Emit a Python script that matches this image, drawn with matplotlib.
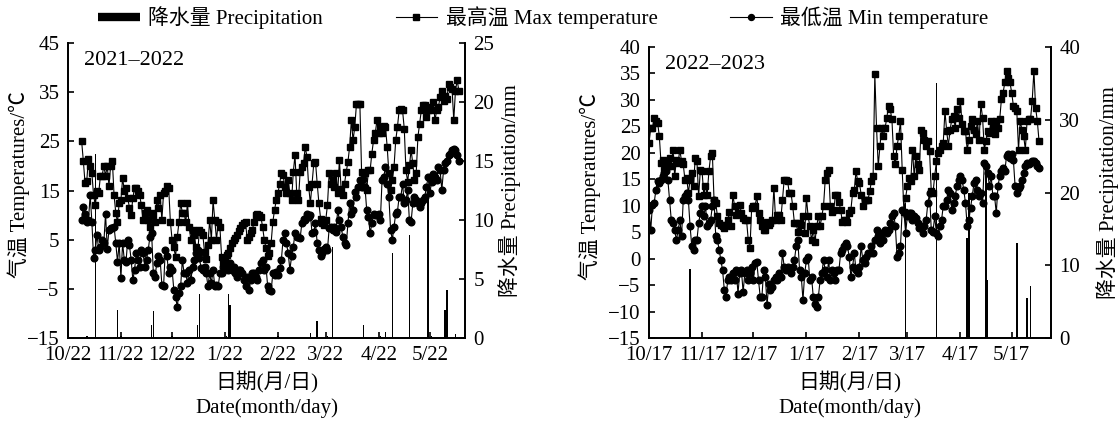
import numpy as np
import matplotlib.pyplot as plt
from matplotlib.lines import Line2D

plt.rcParams['font.family'] = ['Liberation Serif', 'Noto Sans CJK SC']
plt.rcParams['axes.unicode_minus'] = True

# ================================
# DATA
# ================================

# 2021-2022, day 0 = 10/22, first record on day 8
left_first_day = 8
left_tmax = [
    25, 21, 16.5, 17, 21.5, 20, 18.5, 14, 12, 15, 14.5, 18, 18, 20, 18, 20, 16, 20, 21, 14,
    10.5, 8.5, 12.5, 13, 17.5, 15, 15.5, 13.5, 11.5, 10, 13.5, 15.5, 15.5, 15, 14, 12, 9, 10.5, 11, 9,
    7.5, 10.5, 10, 8.5, 13, 11.5, 14, 9, 14.5, 15, 16, 15.5, 8.5, 5, 3.5, 1.5, 5.5, 8.5, 12.5, 10.5,
    10.5, 8.5, 12.5, 7.5, 5, 7, 6, 3.5, 2.5, 7, 6.5, 6, 2.5, 1, 4, 9, 5, 13, 9, 5,
    8.5, 7.5, 1.5,
    0.3, 1.2, 1.9, 2.3, 3.3, 4.3, 5, 5.3, 6, 6.7, 7.3, 8, 8.3, 8.6, 5, 5.6, 6.3, 7, 8.6, 10,
    10.2, 10, 9.7, 7.6, 5, 3.3, 1.6, 2.3, 4.3, 8.6, 11, 13, 14.4, 16.4, 18.5, 18.1, 15.8, 14.4,
    17.1, 14.4, 13, 18.8, 22.2,
    14.4, 13, 18.8, 19.8, 20.5, 23.9, 21.8, 15.8, 12.4, 16.4,
    20.5, 20.8, 16.4, 12.4, 9.3, 8.3, 8, 9, 12, 18.5,
    16.4, 17.1, 15.8, 18.5, 14.4, 21.2, 15.4, 14, 16.4, 18.8,
    20.8, 23.9, 29.3, 25.2, 27.9, 32.6, 32.6, 32.6, 18.8, 15.8,
    18.5, 15.1, 19.1, 19.1, 22.5, 25.2, 26.6, 29.3, 26.6, 27.9,
    26.6, 28.2, 27.9, 23.9, 18.5, 15.1, 17.1, 19.8, 25.2, 27.9,
    31.3, 31.6, 31.3, 27.6, 19.1, 16.8, 20.1, 23.2, 20.5, 17.1,
    18.5, 25.9, 28.6, 31.3, 32.3, 32.3, 29.9, 31.3, 32, 31.3,
    33, 29.3, 31.3, 32, 34, 35.3, 33.3, 34.3, 33.6, 36.7,
    36, 35.7, 29.3, 35.3, 37.4, 35.3,
]
left_tmin = [
    9, 11.7, 10.3, 8.6, 9, 14.1, 8.6, 1.2, 2.9, 6, 2.9, 3.6, 5, 4.3, 10.3, 3.2, 7, 7.3, 7.3, 7.6,
    4.3, 0.5, 4.3, -2.8, 4.3, 0.9, 0.5, 5, 3.9, 0.9, -3.2, -1.1, 2.2, 0.9, -0.5, 2.9, 2.2, -0.5, 0.9, 2.9,
    5.6, 6.3, -1.8, -2.5, 0.2, 1.6, 0.9, -4.2, -4.5, 2.9, 1.6, -1.8, -0.5, -1.1, -5.2, -6.6, -8.6, -5.9, -4.5, 0.9,
    -1.8, -1.8, -3.9, -1.1, -3.2, -0.5, 0.9, 2.2, 2.9, 1.2, -0.8, -1.1, -0.5, -1.8, -4.5, -1.8, -3.9, -1.1, -4.5, -4.2,
    -4.5, -1.8, -1.8, -0.5, -0.8, 0.2, -1.1, 0.2, -1.1, -0.5, -1.8, -2.5, -1.1, -1.1, -1.8, -3.2, -4.5, -2.5, -5.2, -3.2,
    -1.8, -1.8, -2.5, -3.2, -1.1, 0.2, 0.9, -1.1, -0.5, -4.5, -5.2, -5.5, -1.8, -2.2, -1.5, -2.2, -0.8, 0.9, 5, 6.3,
    4.3, 2.2, -1.1, 1.6, 3.6, 6.3, 5.6, 5.6, 5.3, 8.3, 9.3, 9, 10.3, 9.7, 10, 6.3, 6.6, 8.3, 4.3, 2.9,
    1.6, 2.2, 3.2, 3.6, 2.9, 7.3, 7.6, 7, 7.6, 6.6, 11, 9, 7.6, 5.6, 4.3, 3.9, 8.3, 12.4, 10.3, 11,
    14.7, 13.7, 15.7, 17.1, 15.7, 17.4, 15.7, 11, 9.7, 6.3, 8.3, 10.3, 10, 10, 10.3, 9, 17.1, 17.8, 19.8, 16.4,
    13.7, 7, 5, 7.6, 10.3, 10.7, 13.7, 13.7, 16.4, 12.4, 13, 15.1, 9, 8.6, 12.4, 13.7, 13, 12.4, 11.7, 12.4,
    13, 13.7, 15.7, 17.8, 14.4, 16.8, 18.4, 17.8, 17.1, 19.8, 19.1, 15.1, 19.1, 20.5, 21.1, 22.2, 22.5, 23.2, 23.5, 23.2,
    22.2, 21.1,
]
left_rain_day = [11, 16, 29, 31, 38, 49, 50, 61, 76, 77, 93, 94, 95, 123, 142, 146,
                 152, 155, 159, 173, 183, 186, 190, 200, 211, 213, 221, 222, 227]
left_rain = [0.2, 15.6, 2.4, 0.2, 0.1, 1.1, 2.3, 0.2, 1.1, 3.7, 0.2, 3.7, 2.8, 0.2, 0.4, 1.4,
             0.2, 7.7, 0.1, 1.1, 0.2, 0.5, 7.2, 8.7, 12.2, 0.2, 2.4, 4.1, 0.3]
left_ticks = [0, 31, 61, 92, 123, 151, 182, 212]
left_ticklabels = ['10/22', '11/22', '12/22', '1/22', '2/22', '3/22', '4/22', '5/22']

# 2022-2023, day 0 = 10/17
right_first_day = 0
right_tmax = [
    21.9, 24.7, 24.7, 26.6, 26, 25.7, 23.2, 18.1, 18.7, 16.8, 18.4, 17.5, 19.1, 17.5, 20.6, 15.6,
    18.7, 18.1, 20.6, 18.4, 17.8, 14.9, 15.3, 12.4, 14.9, 16.2, 13.7, 19.1, 18.4, 11.8, 16.8, 16.5,
    12.1, 13.7, 12.1, 16.5, 19.4, 20, 11.1, 10.5, 8, 6.7, 6.4, 6.1, 5.8, 6.4, 7.3, 8.9, 6.1, 12.1,
    9.9, 8.3, 8.6, 10.2, 8.6, 7.7, 7.3, 7.3, 3.5, 2, 9.6, 9.9, 9.9, 11.8, 8.6, 7.3, 6.1, 5.4, 5.4, 7,
    6.4, 6.7, 7.3, 13.4, 7.3, 8.3, 8.3, 7.3, 11.1, 14.9, 14.9, 14.6, 12.4, 12.4, 9.9, 6.7, 6.7, 5.1,
    6.7, 6.4, 8, 4.8, 11.5, 8, 6.1, 3.5, 5.4, 3.2, 6.1, 8, 6.1, 8, 9.9, 14.9, 16.2, 16.8, 9.9, 8.9,
    9.2, 12.1, 12.1, 10.8, 9.2, 7, 7.3, 7.3, 7, 8.6, 9.2, 12.4, 13, 16.5, 14.6, 14.3, 12.1, 9.9,
    11.1, 11.1, 11.1, 12.7, 14.6, 15.6, 34.9, 24.7, 17.5, 21.3, 24.7, 23.2, 24.7, 26.6, 28.9, 28.2,
    26.3, 19.4, 17.8, 21.3, 23.2, 26, 16.8, 8.9, 11.5, 13.7, 15.3, 14.6, 20.6, 15.6, 19.4, 17.8,
    16.8, 24.4, 23.8, 22.5, 21.3, 22.2, 20.3, 12.7, 12.4, 15.6, 18.4, 20, 20.6, 21.3, 21.9, 27.9,
    24.1, 21.3, 24.4, 26.3, 27, 24.7, 28.2, 26.6, 29.8, 25.4, 24.1, 24.1, 20.6, 22.5, 25.1, 26.3,
    24.4, 23.5, 26, 22.5, 29.2, 26.6, 20.6, 22.2, 24.1, 23.8, 26, 24.7, 23.5, 26, 24.7, 26.3,
    30.1, 31.4, 33.3, 35.5, 34.2, 33.3, 31.4, 28.9, 28.5, 27.9, 20.6, 26, 24.4, 23.2, 20.6, 26,
    26.3, 26.3, 29.8, 35.5, 28.5, 26, 22.2,
]
right_tmin = [
    9.2, 5.4, 10.2, 10.5, 13, 14.6, 14.3, 14.9, 15.6, 16.2, 16.5, 14.9, 11.1, 7.3, 6.7, 5.4,
    3.5, 5.4, 7.3, 4.2, 11.1, 11.8, 12.4, 11.1, 6.1, 2.3, 1.6, 3.5, 3.5, 6.7, 8.6, 9.9,
    8, 9.9, 6.1, 6.7, 7.3, 9.9, 11.1, 4.2, 3.5, 1.6, -0.3, -2.2, -5.9, -7.2, -4.1, -3.4,
    -4.1, -2.8, -4.1, -2.2, -6.6, -2.8, -2.2, -6.3, -2.8, -2.2, -4.1, -2.8, -1.5, -4.1, -0.9, -0.6,
    -4.1, -7.2, -7.2, -2.2, -3.4, -8.8, -4.7, -5.9, -5.3, -4.1, -3.4, -4.1, -2.8, -3.4, 1, -1.5,
    -2.2, -1.5, -2.2, -2.8, -1.5, -0.3, 2.3, 3.5, -2.2, -3.4, -7.8, -2.8, -0.3, 0.4, -4.1, -3.4,
    -7.2, -8.5, -9.1, -7.2, -4.1, -2.8, -0.3, -2.2, -3.4, -0.3, -4.1, -2.2, -2.8, -4.1, -2.2, -2.2,
    1, 1.6, 2.3, 2.9, 2.3, 0.4, -3.4, -1.5, 1, -2.2, -2.8, -1.5, 2.3, -0.3, -0.9, 0.4,
    1, 1, 2.3, 1, 3.5, 5.4, 4.2, 2.9, 4.8, 3.5, 5.4, 4.8, 5.4, 6.7, 8, 8.6,
    6.1, 0.4, 1, 2.3, 9.2, 8.9, 4.8, 8, 8.6, 8.6, 7.3, 8, 7.7, 6.7, 5.8, 6.1,
    4.8, 6.1, 7.3, 10.5, 12.4, 5.4, 5.1, 8, 4.8, 4.2, 6.1, 7.3, 9.9, 9.9, 11.1, 13,
    12.4, 9.2, 10.5, 11.8, 13.7, 14.9, 15.6, 14.9, 13, 10.5, 6.1, 7.3, 9.6, 11.8, 14.3, 14.9,
    13, 11.8, 12.4, 10.5, 18.1, 17.5, 16.2, 13.7, 15.6, 11.8, 11.8, 8.6, 13.7, 15.6, 16.5, 17.2,
    16.5, 19.4, 19.7, 19.1, 19.7, 18.7, 13.7, 12.4, 13.4, 13.7, 14.9, 16.2, 17.5, 18.1, 17.8, 18.1,
    18.4, 18.4, 18.1, 17.5, 17.2,
]
right_rain_day = [24, 150, 168, 186, 187, 197, 198, 215, 221, 223]
right_rain = [9.5, 18.5, 35.1, 13.8, 20, 24, 8, 13.1, 5.5, 7.2]
right_ticks = [0, 31, 61, 92, 123, 151, 182, 212]
right_ticklabels = ['10/17', '11/17', '12/17', '1/17', '2/17', '3/17', '4/17', '5/17']

# ================================
# PLOT
# ================================

FS = 15


def draw_panel(rect, title, first_day, tmax, tmin, rain_day, rain, ticks, ticklabels,
               xmax, tlim, tticks, plim, pticks, ylab_x, rlab_x):
    ax = fig.add_axes(rect)
    ax2 = ax.twinx()
    ax.set_zorder(ax2.get_zorder() + 1)
    ax.patch.set_visible(False)

    days_max = first_day + np.arange(len(tmax))
    days_min = first_day + np.arange(len(tmin))
    ax.plot(days_max, tmax, '-s', color='black', lw=0.8, ms=4.5)
    ax.plot(days_min, tmin, '-o', color='black', lw=0.8, ms=4.8)
    ax2.bar(rain_day, rain, width=0.9, color='black')

    ax.set_xlim(0, xmax)
    ax.set_ylim(*tlim)
    ax.set_yticks(tticks)
    ax.set_xticks(ticks)
    ax.set_xticklabels(ticklabels)
    ax2.set_ylim(*plim)
    ax2.set_yticks(pticks)

    for a in (ax, ax2):
        a.spines['top'].set_visible(False)
        for s in a.spines.values():
            s.set_linewidth(1.3)
        a.tick_params(direction='in', length=4, width=1.2, labelsize=FS, pad=6)

    ax.set_ylabel('气温 Temperatures/℃', fontsize=FS)
    ax.yaxis.set_label_coords(ylab_x, 0.52)
    ax2.set_ylabel('降水量 Precipitation/mm', fontsize=FS)
    ax2.yaxis.set_label_coords(rlab_x, 0.5)
    ax.set_xlabel('日期(月/日)\nDate(month/day)', fontsize=FS, linespacing=1.35)
    ax.text(0.04, 0.94, title, transform=ax.transAxes, fontsize=16, va='center')
    return ax


fig = plt.figure(figsize=(11.2, 4.23), dpi=100)

draw_panel([0.0607, 0.2009, 0.3545, 0.6974], '2021–2022', left_first_day,
           left_tmax, left_tmin, left_rain_day, left_rain, left_ticks, left_ticklabels,
           232.6, (-15, 45), range(-15, 46, 10), (0, 25), range(0, 26, 5), -0.096, 1.083)
draw_panel([0.5795, 0.2009, 0.3589, 0.6880], '2022–2023', right_first_day,
           right_tmax, right_tmin, right_rain_day, right_rain, right_ticks, right_ticklabels,
           235, (-15, 40), range(-15, 41, 5), (0, 40), range(0, 41, 10), -0.12, 1.112)

handles = [
    Line2D([], [], color='black', lw=6, solid_capstyle='butt'),
    Line2D([], [], color='black', lw=0.8, marker='s', ms=4),
    Line2D([], [], color='black', lw=0.8, marker='o', ms=4.3),
]
labels = ['降水量 Precipitation', '最高温 Max temperature', '最低温 Min temperature']
fig.legend(handles, labels, loc='center', bbox_to_anchor=(0.485, 0.958), ncol=3,
           frameon=False, fontsize=FS, handlelength=2.0, columnspacing=3.5,
           handletextpad=0.4)

fig.savefig('out.png', dpi=100)
